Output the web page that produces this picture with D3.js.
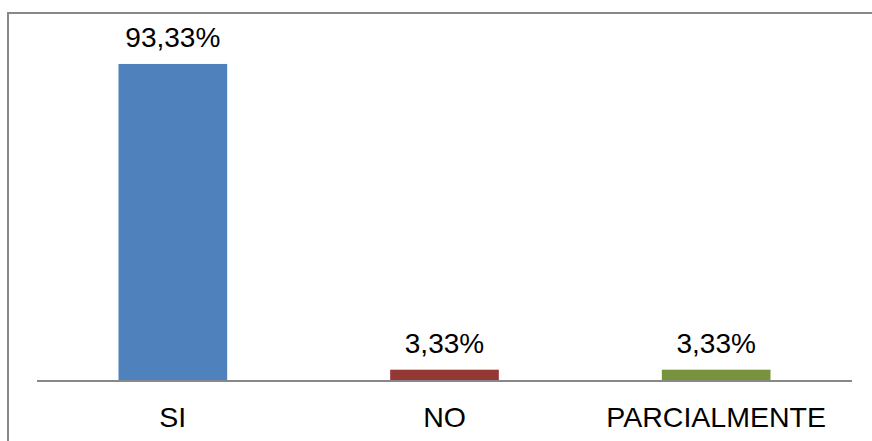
<!DOCTYPE html>
<html>
<head>
<meta charset="utf-8">
<script src="https://cdn.jsdelivr.net/npm/d3@7"></script>
<style>
  html, body { margin: 0; padding: 0; background: #fff; }
  svg { display: block; }
  text { font-family: "Liberation Sans", Arial, sans-serif; fill: #000; }
</style>
</head>
<body>
<svg id="chart" width="872" height="441"></svg>
<script>
// Respuestas y porcentajes
const categories = ["SI", "NO", "PARCIALMENTE"];
const values = [93.33, 3.33, 3.33];
const valueLabels = ["93,33%", "3,33%", "3,33%"];
const colors = ["#4F81BD", "#953735", "#77933C"];

const svg = d3.select("#chart");
const W = 872, H = 441;

// Outer chart frame (continues past the right and bottom edges)
svg.append("rect")
  .attr("x", 8).attr("y", 13)
  .attr("width", W + 20).attr("height", H + 20)
  .attr("fill", "none")
  .attr("stroke", "#888888")
  .attr("stroke-width", 2);

const plot = { left: 37, right: 852, top: 41.3, bottom: 381 };

const x = d3.scaleBand()
  .domain(categories)
  .range([plot.left, plot.right])
  .paddingInner(0.6)
  .paddingOuter(0.3);

const y = d3.scaleLinear()
  .domain([0, 100])
  .range([plot.bottom, plot.top]);

// Bars
svg.selectAll("rect.bar")
  .data(categories)
  .join("rect")
  .attr("class", "bar")
  .attr("x", d => x(d))
  .attr("width", x.bandwidth())
  .attr("y", (d, i) => y(values[i]))
  .attr("height", (d, i) => y(0) - y(values[i]))
  .attr("fill", (d, i) => colors[i]);

// Category axis
const axis = svg.append("g")
  .attr("transform", `translate(0,${plot.bottom})`)
  .call(d3.axisBottom(x).tickSize(0).tickPadding(0));
axis.select(".domain")
  .attr("d", `M${plot.left},0H${plot.right}`)
  .attr("stroke", "#888888")
  .attr("stroke-width", 2);
axis.selectAll(".tick text")
  .attr("y", 45.7)
  .attr("dy", null)
  .style("font-size", "28.5px")
  .style("font-family", "'Liberation Sans', Arial, sans-serif")
  .attr("fill", "#000");

// Value labels
svg.selectAll("text.val")
  .data(categories)
  .join("text")
  .attr("class", "val")
  .attr("x", d => x(d) + x.bandwidth() / 2)
  .attr("y", (d, i) => y(values[i]) - 17)
  .attr("text-anchor", "middle")
  .style("font-size", "28px")
  .text((d, i) => valueLabels[i]);
</script>
</body>
</html>
